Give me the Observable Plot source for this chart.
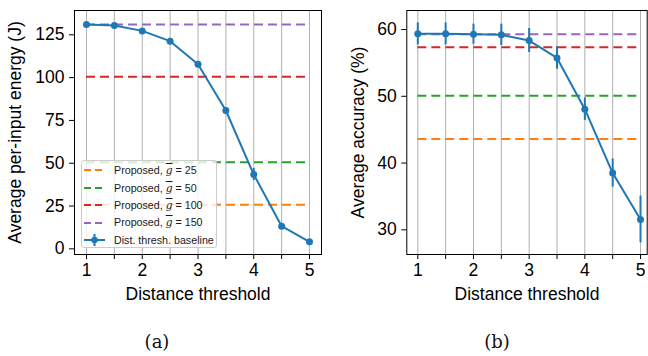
<!DOCTYPE html>
<html>
<head>
<meta charset="utf-8">
<script src="https://cdn.jsdelivr.net/npm/d3@7"></script>
<script src="https://cdn.jsdelivr.net/npm/@observablehq/plot@0.6"></script>
<style>
  html, body { margin: 0; padding: 0; background: #fff; }
  #wrap { position: relative; width: 648px; height: 356px; overflow: hidden; font-family: "Liberation Sans", Arial, sans-serif; }
  .panel { position: absolute; top: 0; }
  .cap { position: absolute; font-family: "DejaVu Serif", "Liberation Serif", serif; font-size: 18px; color: #111; transform: translateX(-50%); }
  #legend { position: absolute; left: 81px; top: 160px; width: 136px; height: 88px; box-sizing: border-box;
            background: rgba(255,255,255,0.8); border: 1px solid #cccccc; border-radius: 3px; font-size: 10.7px; color: #1a1a1a; }
  #legend .row { position: absolute; left: 0; height: 14px; display: flex; align-items: center; white-space: nowrap; }
  #legend .row svg { margin-left: 2px; margin-right: 9px; }
  .g { font-style: italic; text-decoration: overline; font-family: "DejaVu Serif", serif; }
</style>
</head>
<body>
<div id="wrap">
  <div id="left" class="panel" style="left:0px"></div>
  <div id="right" class="panel" style="left:330px"></div>
  <div id="legend"></div>
  <div class="cap" style="left:157px; top:331px">(a)</div>
  <div class="cap" style="left:497px; top:331px">(b)</div>
</div>
<script>
// ---- data ----
const thresholds = [1, 1.5, 2, 2.5, 3, 3.5, 4, 4.5, 5];
const energy = [131.0, 130.4, 127.3, 121.3, 107.8, 80.8, 43.4, 13.2, 4.1];
const energyErr = [0.6, 0.6, 0.8, 1.0, 1.2, 1.6, 3.5, 1.2, 0.6];
const accuracy = [59.35, 59.35, 59.3, 59.2, 58.35, 55.75, 48.07, 38.5, 31.55];
const accuracyErr = [1.65, 1.65, 1.5, 1.6, 1.8, 1.7, 1.7, 2.1, 3.5];
const gValues = [25, 50, 100, 150];
const proposedEnergy = [25.7, 50.6, 100.5, 131.0];
const proposedAccuracy = [43.6, 50.07, 57.35, 59.3];
const proposedColors = ["#ff7f0e", "#2ca02c", "#d62728", "#9467bd"];
const baselineLabel = "Dist. thresh. baseline";
const xLabel = "Distance threshold";
const energyLabel = "Average per-input energy (J)";
const accuracyLabel = "Average accuracy (%)";
const energyTicks = [0, 25, 50, 75, 100, 125];
const accuracyTicks = [30, 40, 50, 60];

const blue = "#1f77b4";
const xTicks = thresholds;
const xMin = d3.min(thresholds), xMax = d3.max(thresholds);

function panel({values, errs, proposed, yDomain, yTicks, yLabel, xDomain, width, marginLeft, marginRight, labelOffset}) {
  const pts = thresholds.map((t, i) => ({x: t, y: values[i], lo: values[i] - errs[i], hi: values[i] + errs[i]}));
  const props = proposed.map((v, i) => ({y: v, x1: xMin, x2: xMax, c: proposedColors[i]}));
  return Plot.plot({
    width, height: 300,
    marginLeft, marginRight, marginTop: 10, marginBottom: 46,
    style: {fontFamily: "Liberation Sans, Arial, sans-serif", fontSize: "17.5px", color: "black", background: "white", overflow: "visible"},
    x: {domain: xDomain},
    y: {domain: yDomain},
    marks: [
      Plot.gridX(xTicks, {stroke: "#b0b0b0", strokeOpacity: 1, strokeWidth: 1}),
      Plot.ruleY(props, {y: "y", x1: "x1", x2: "x2", stroke: "c", strokeWidth: 2, strokeDasharray: "9,5"}),
      Plot.ruleX(pts, {x: "x", y1: "lo", y2: "hi", stroke: blue, strokeWidth: 2}),
      Plot.line(pts, {x: "x", y: "y", stroke: blue, strokeWidth: 2}),
      Plot.dot(pts, {x: "x", y: "y", fill: blue, r: 3.5, stroke: "none"}),
      Plot.frame({stroke: "black", strokeWidth: 1}),
      Plot.axisX({ticks: xTicks, tickSize: 5, tickPadding: 4, tickFormat: d => Number.isInteger(d) ? String(d) : "",
                  label: xLabel, labelAnchor: "center", labelOffset: 45, labelArrow: false}),
      Plot.axisY({ticks: yTicks, tickSize: 5, tickPadding: 5, tickFormat: d => String(d),
                  label: yLabel, labelAnchor: "center", labelOffset, labelArrow: false})
    ]
  });
}

document.getElementById("left").append(panel({
  values: energy, errs: energyErr, proposed: proposedEnergy,
  yDomain: [-3.3, 139.2], yTicks: energyTicks, yLabel: energyLabel,
  xDomain: [0.785, 5.215], width: 330, marginLeft: 74, marginRight: 9, labelOffset: 66
}));
document.getElementById("right").append(panel({
  values: accuracy, errs: accuracyErr, proposed: proposedAccuracy,
  yDomain: [26.3, 62.85], yTicks: accuracyTicks, yLabel: accuracyLabel,
  xDomain: [0.8025, 5.12], width: 318, marginLeft: 76.3, marginRight: 1.3, labelOffset: 55
}));

// ---- legend ----
const legend = document.getElementById("legend");
const rowTops = [2.3, 20, 37.3, 54.7, 72];
gValues.forEach((g, i) => {
  const row = document.createElement("div");
  row.className = "row";
  row.style.top = rowTops[i] + "px";
  row.innerHTML = `<svg width="21" height="14"><line x1="0" x2="21" y1="7" y2="7" stroke="${proposedColors[i]}" stroke-width="2" stroke-dasharray="7,4"/></svg>` +
    `<span>Proposed, <span class="g">g</span> = ${g}</span>`;
  legend.append(row);
});
const brow = document.createElement("div");
brow.className = "row";
brow.style.top = rowTops[4] + "px";
brow.innerHTML = `<svg width="21" height="14"><line x1="0" x2="21" y1="7" y2="7" stroke="${blue}" stroke-width="2"/><line x1="10.5" x2="10.5" y1="1" y2="13" stroke="${blue}" stroke-width="2"/><circle cx="10.5" cy="7" r="3.2" fill="${blue}"/></svg><span>${baselineLabel}</span>`;
legend.append(brow);
</script>
</body>
</html>
